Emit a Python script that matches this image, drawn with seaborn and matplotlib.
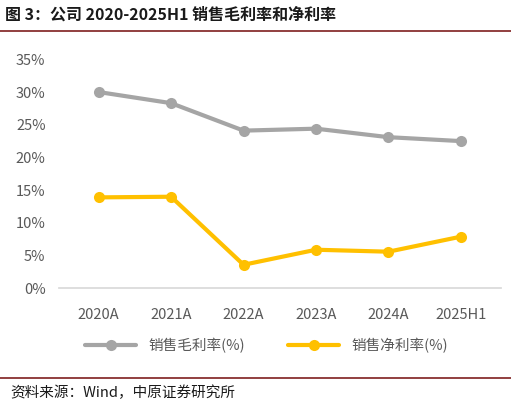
import matplotlib
matplotlib.use("Agg")
import matplotlib.pyplot as plt
import seaborn as sns
import pandas as pd

categories = ["2020A", "2021A", "2022A", "2023A", "2024A", "2025H1"]
gross = [30.0, 28.3, 24.1, 24.4, 23.1, 22.5]
net = [13.9, 14.0, 3.6, 5.9, 5.6, 7.9]
names = ["销售毛利率(%)", "销售净利率(%)"]

sns.set_theme(style="white")
plt.rcParams['font.family'] = ['Noto Sans CJK SC', 'DejaVu Sans']

df = pd.DataFrame({"cat": categories * 2, "val": gross + net,
                   "s": [names[0]] * 6 + [names[1]] * 6})

fig = plt.figure(figsize=(5.11, 4.09), dpi=100)
ax = fig.add_axes([0.115, 0.295, 0.865, 0.56])
sns.lineplot(data=df, x="cat", y="val", hue="s", palette=["#A5A5A5", "#FFC000"],
             marker="o", markersize=8, markeredgewidth=0, linewidth=3, ax=ax, sort=False)
ax.set_ylim(0, 35)
ax.set_yticks(range(0, 36, 5))
ax.set_yticklabels([f"{v}%" for v in range(0, 36, 5)], color="#595959", fontsize=10.5)
ax.set_xlim(-0.55, 5.55)
ax.tick_params(axis='x', colors="#595959", labelsize=10.5, pad=8)
ax.set_xlabel(""); ax.set_ylabel("")
for s in ["top", "right", "left"]:
    ax.spines[s].set_visible(False)
ax.spines["bottom"].set_color("#D9D9D9")
ax.legend(loc="upper center", bbox_to_anchor=(0.47, -0.16), ncol=2, frameon=False,
          fontsize=10.5, handlelength=3.5, columnspacing=3, labelcolor="#595959")

fig.text(0.01, 0.965, "图 3：公司 2020-2025H1 销售毛利率和净利率", fontsize=11.5,
         fontweight="bold", va="center", color="#1a1a1a")
fig.add_artist(plt.Line2D([0.0, 1.0], [0.925, 0.925], color="#7F1F1F", linewidth=1.2))
fig.add_artist(plt.Line2D([0.0, 1.0], [0.075, 0.075], color="#7F1F1F", linewidth=1.2))
fig.text(0.02, 0.04, "资料来源：Wind，中原证券研究所", fontsize=10.5, va="center", color="#1a1a1a")
fig.savefig("out.png", dpi=100)
